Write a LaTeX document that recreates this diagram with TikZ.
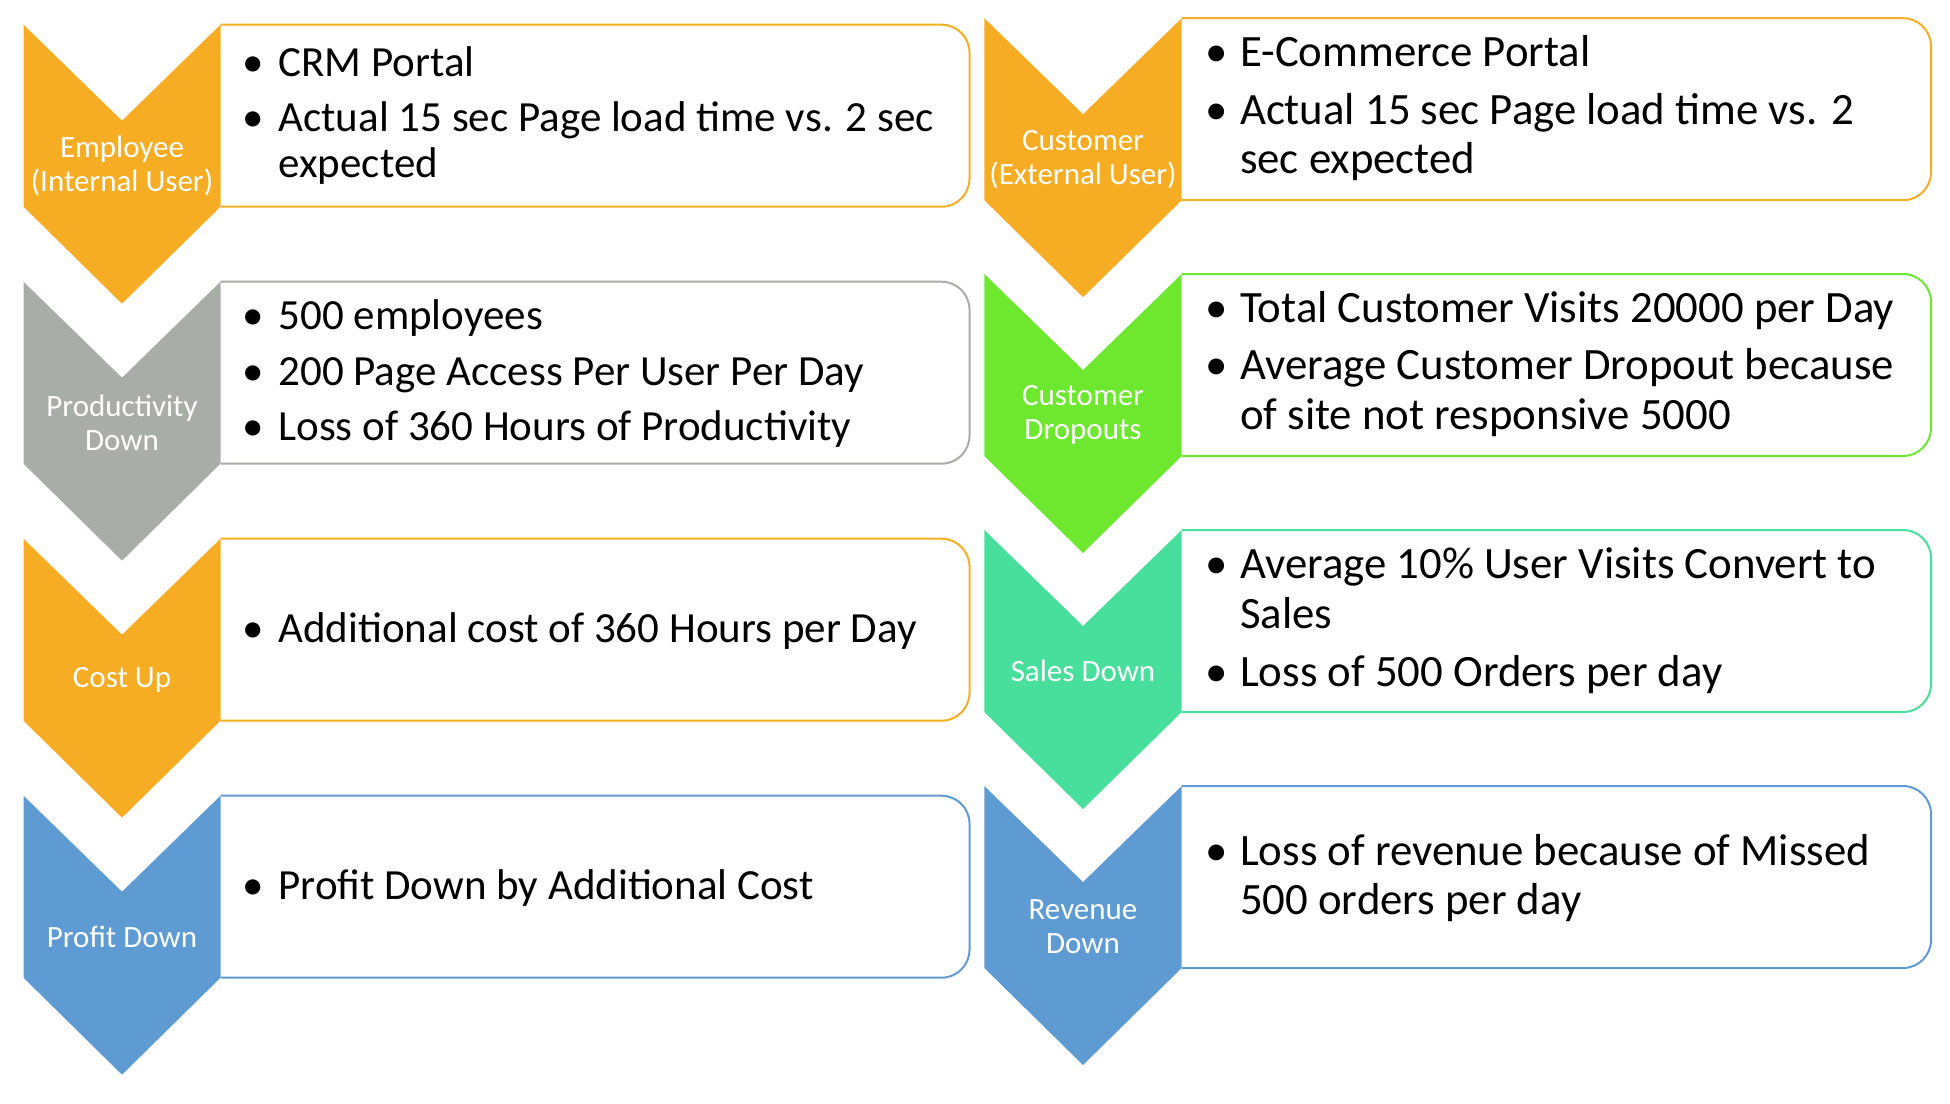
\documentclass[tikz,border=0pt]{standalone}
\usepackage{fontspec}
\setmainfont{Carlito}
\definecolor{corange}{HTML}{F6AD23}
\definecolor{cgray}{HTML}{A9ADA8}
\definecolor{cgreen}{HTML}{6DE82E}
\definecolor{cteal}{HTML}{48DF9C}
\definecolor{cblue}{HTML}{5E9BD3}
% #1 x0, #2 x1 (= box left), #3 box right, #4 top, #5 colour
\newcommand{\chevrow}[5]{%
  \draw[line width=2pt, draw=#5, rounded corners=28pt] (#2,#4) -- (#3,#4) -- (#3,#4+182) -- (#2,#4+182);
  \fill[#5] (#1,#4) -- ({(#1+#2)/2},#4+96) -- (#2,#4) -- (#2,#4+182) -- ({(#1+#2)/2},#4+279) -- (#1,#4+182) -- cycle;
}
\newcommand{\bptL}{\makebox[35.6pt][l]{•}}
\newcommand{\bptR}{\makebox[34.9pt][l]{•}}
\tikzset{
  lab/.style={text=white, align=center, inner sep=0pt, font=\fontsize{31}{34}\selectfont},
  ltxt/.style={anchor=base west, inner sep=0pt, text=black, font=\fontsize{43}{47}\selectfont},
  rtxt/.style={anchor=base west, inner sep=0pt, text=black, font=\fontsize{44.8}{50}\selectfont}
}
\begin{document}
\begin{tikzpicture}[x=1pt,y=-1pt]
\useasboundingbox (0,0) rectangle (1950,1103);
% left column
\chevrow{23.5}{220.5}{969.5}{24.7}{corange}
\chevrow{23.5}{220.5}{969.5}{281.7}{cgray}
\chevrow{23.5}{220.5}{969.5}{538.7}{corange}
\chevrow{23.5}{220.5}{969.5}{795.7}{cblue}
% right column
\chevrow{984.3}{1181.7}{1931}{18.2}{corange}
\chevrow{984.3}{1181.7}{1931}{274}{cgreen}
\chevrow{984.3}{1181.7}{1931}{530}{cteal}
\chevrow{984.3}{1181.7}{1931}{786}{cblue}
% chevron labels
\node[lab] (l1) at (122,165.7) {Employee\\(Internal User)};
\node[lab] (l2) at (122,422.7) {Productivity\\Down};
\node[lab] (l3) at (122,679.7) {Cost Up};
\node[lab] (l4) at (122,936.7) {Profit Down};
\node[lab] (r1) at (1083,159.2) {Customer\\(External User)};
\node[lab] (r2) at (1083,415) {Customer\\Dropouts};
\node[lab] (r3) at (1083,671) {Sales Down};
\node[lab] (r4) at (1083,927) {Revenue\\Down};
% left box texts
\node[ltxt] (a1) at (242.7,76.7) {\bptL CRM Portal};
\node[ltxt] (a2) at (242.7,131) {\bptL Actual 15 sec Page load time vs. 2 sec};
\node[ltxt] (a3) at (242.7,177.7) {\hspace*{35.6pt}expected};
\node[ltxt] (b1) at (242.7,329.3) {\bptL 500 employees};
\node[ltxt] (b2) at (242.7,385) {\bptL 200 Page Access Per User Per Day};
\node[ltxt] (b3) at (242.7,440.7) {\bptL Loss of 360 Hours of Productivity};
\node[ltxt] (c1) at (242.7,642) {\bptL Additional cost of 360 Hours per Day};
\node[ltxt] (d1) at (242.7,899) {\bptL Profit Down by Additional Cost};
% right box texts
\node[rtxt] (e1) at (1205,66.7) {\bptR E-Commerce Portal};
\node[rtxt] (e2) at (1205,124) {\bptR Actual 15 sec Page load time vs. 2};
\node[rtxt] (e3) at (1205,173.3) {\hspace*{34.9pt}sec expected};
\node[rtxt] (f1) at (1205,322.5) {\bptR Total Customer Visits 20000 per Day};
\node[rtxt] (f2) at (1205,379.8) {\bptR Average Customer Dropout because};
\node[rtxt] (f3) at (1205,429.1) {\hspace*{34.9pt}of site not responsive 5000};
\node[rtxt] (g1) at (1205,578.3) {\bptR Average 10\% User Visits Convert to};
\node[rtxt] (g2) at (1205,628.3) {\hspace*{34.9pt}Sales};
\node[rtxt] (g3) at (1205,686) {\bptR Loss of 500 Orders per day};
\node[rtxt] (h1) at (1205,865) {\bptR Loss of revenue because of Missed};
\node[rtxt] (h2) at (1205,914.5) {\hspace*{34.9pt}500 orders per day};
\end{tikzpicture}
\end{document}
